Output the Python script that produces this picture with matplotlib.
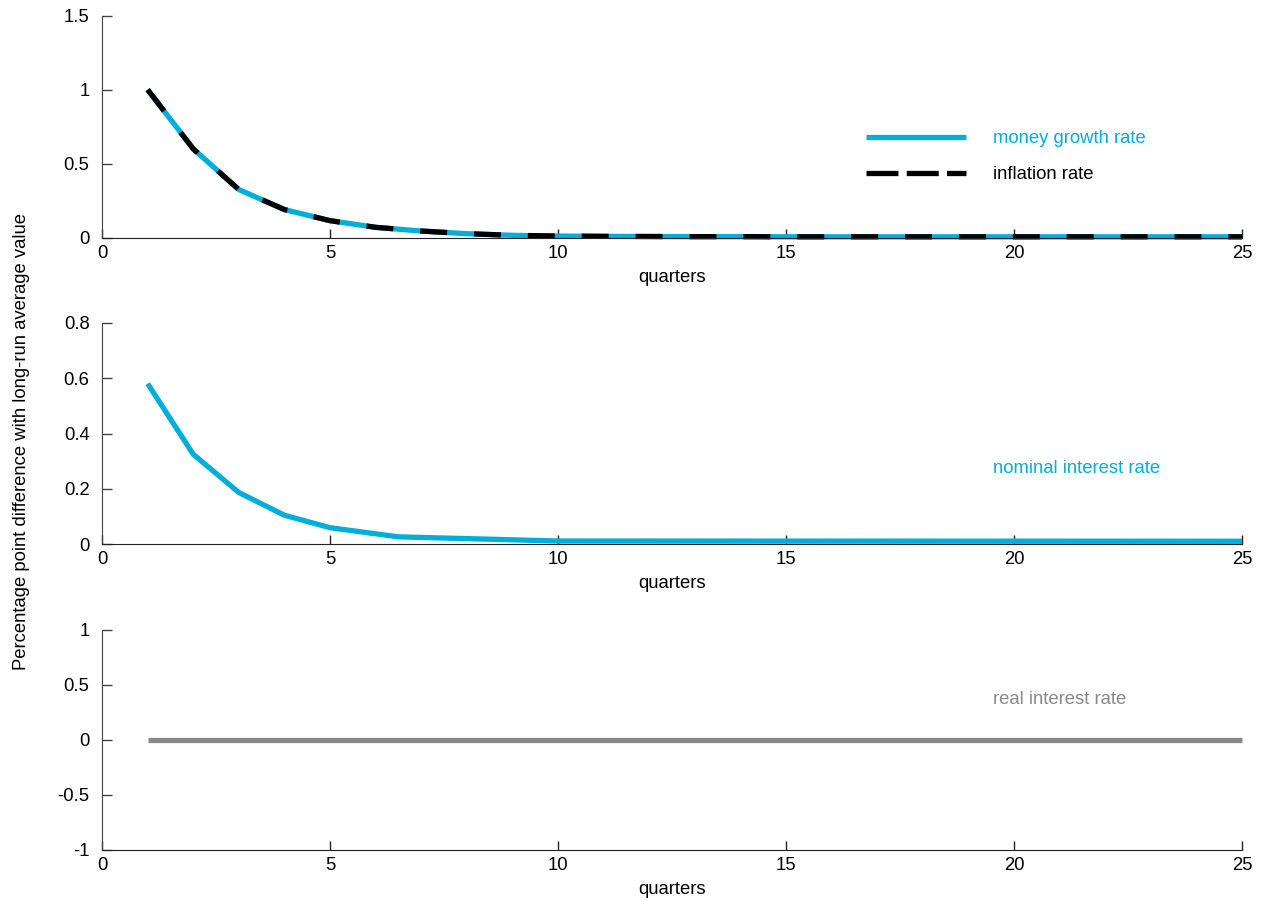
import matplotlib
matplotlib.use("Agg")
import matplotlib.pyplot as plt

plt.rcParams['font.family'] = ['Liberation Sans', 'DejaVu Sans']
plt.rcParams['axes.unicode_minus'] = False
plt.rcParams['lines.scale_dashes'] = False

quarters = list(range(1, 26))
money_growth = [1.0, 0.60, 0.325, 0.19, 0.115, 0.07, 0.045, 0.027, 0.016, 0.011,
                0.009, 0.008, 0.007, 0.007, 0.006, 0.006, 0.006, 0.006, 0.006, 0.006,
                0.006, 0.006, 0.006, 0.006, 0.006]
inflation = [1.0, 0.60, 0.325, 0.19, 0.115, 0.07, 0.045, 0.027, 0.016, 0.011,
             0.009, 0.008, 0.007, 0.007, 0.006, 0.006, 0.006, 0.006, 0.006, 0.006,
             0.006, 0.006, 0.006, 0.006, 0.006]
nominal_quarters = [1, 2, 3, 4, 5, 6.5, 10, 25]
nominal_rate = [0.58, 0.325, 0.187, 0.105, 0.06, 0.027, 0.012, 0.011]
real_rate = [0.0] * 25

xticks = [0, 5, 10, 15, 20, 25]
xticklabels = ["0", "5", "10", "15", "20", "25"]
top_yticks = [0, 0.5, 1, 1.5]
top_yticklabels = ["0", "0.5", "1", "1.5"]
mid_yticks = [0, 0.2, 0.4, 0.6, 0.8]
mid_yticklabels = ["0", "0.2", "0.4", "0.6", "0.8"]
bot_yticks = [-1, -0.5, 0, 0.5, 1]
bot_yticklabels = ["-1", "-0.5", "0", "0.5", "1"]

CYAN = "#00AEDA"
GRAY = "#898989"
FS = 13.3

fig = plt.figure(figsize=(12.63, 9.0), dpi=100)
ax1 = fig.add_axes([0.0808, 0.7359, 0.9026, 0.2467])
ax2 = fig.add_axes([0.0808, 0.3952, 0.9026, 0.2462])
ax3 = fig.add_axes([0.0808, 0.0556, 0.9026, 0.2444])


def style(ax, yt, ytl, ylim):
    ax.set_xlim(0, 25)
    ax.set_ylim(*ylim)
    ax.set_xticks(xticks)
    ax.set_xticklabels(xticklabels, fontsize=FS)
    ax.set_yticks(yt)
    ax.set_yticklabels(ytl, fontsize=FS)
    for s in ['top', 'right']:
        ax.spines[s].set_visible(False)
    ax.spines['left'].set_color('#444444')
    ax.spines['bottom'].set_color('#222222')
    ax.tick_params(axis='y', direction='in', length=7.5, width=1, color='#444444', pad=9)
    ax.tick_params(axis='x', direction='in', length=6.5, width=1, color='#222222', pad=5)
    ax.set_xlabel("quarters", fontsize=FS, labelpad=5)


style(ax1, top_yticks, top_yticklabels, (0, 1.5))
style(ax2, mid_yticks, mid_yticklabels, (0, 0.8))
style(ax3, bot_yticks, bot_yticklabels, (-1, 1))

ax1.plot(quarters, money_growth, color=CYAN, lw=3.8, solid_capstyle='butt',
         label="money growth rate", clip_on=False)
ax1.plot(quarters, inflation, color='black', lw=3.8, dashes=(19.4, 19.4),
         dash_capstyle='butt', label="inflation rate", clip_on=False)
leg = ax1.legend(loc='upper left', bbox_to_anchor=(0.6702, 0.485), frameon=False,
                 fontsize=FS, handlelength=5.4, handletextpad=1.45, labelspacing=1.05,
                 borderpad=0, borderaxespad=0)
leg.get_texts()[0].set_color(CYAN)
leg.get_texts()[1].set_color('black')
leg.legend_handles[1].set_dashes((23, 6))

ax2.plot(nominal_quarters, nominal_rate, color=CYAN, lw=3.8, solid_capstyle='butt',
         clip_on=False)
ax2.text(0.7816, 0.34, "nominal interest rate", transform=ax2.transAxes,
         color=CYAN, fontsize=FS, va='center', ha='left')

ax3.plot(quarters, real_rate, color=GRAY, lw=3.8, solid_capstyle='butt', clip_on=False)
ax3.text(0.7816, 0.682, "real interest rate", transform=ax3.transAxes,
         color=GRAY, fontsize=FS, va='center', ha='left')

fig.text(22 / 1263, 1 - 442 / 900, "Percentage point difference with long-run average value",
         rotation=90, fontsize=FS, ha='center', va='center')

fig.savefig("out.png", dpi=100)
